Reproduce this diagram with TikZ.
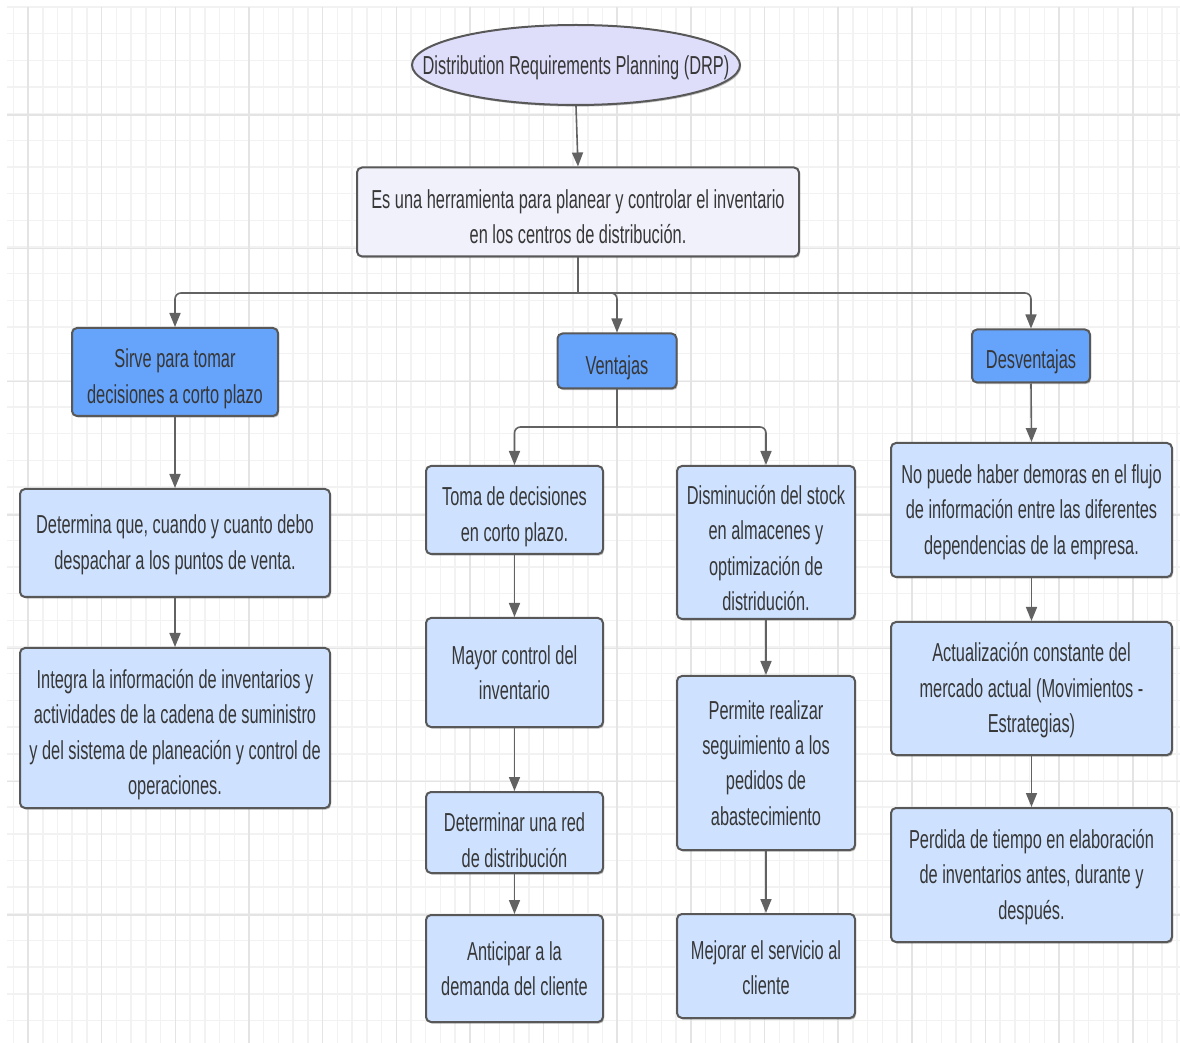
\documentclass[tikz,border=0pt]{standalone}
\usepackage{fontspec}
\setmainfont{Liberation Sans}[FakeStretch=0.63]
\usetikzlibrary{shapes.geometric,arrows.meta,shadows}

\definecolor{gridminor}{RGB}{242,242,242}
\definecolor{gridmajor}{RGB}{228,228,228}
\definecolor{edge}{RGB}{88,88,88}
\definecolor{wire}{RGB}{98,98,98}
\definecolor{ink}{RGB}{55,55,55}
\definecolor{lilac}{RGB}{222,222,250}
\definecolor{paleLilac}{RGB}{241,241,252}
\definecolor{midBlue}{RGB}{102,163,250}
\definecolor{paleBlue}{RGB}{206,226,255}

% invisible strut that sets the height of a first text line
\newcommand\liftline[1]{\rule{0pt}{#1}}

\tikzset{
  txt/.style={align=center, text=ink, inner sep=0pt,
    font=\fontsize{13}{17.7}\selectfont},
  softshadow/.style={drop shadow={shadow xshift=0.6pt, shadow yshift=-0.8pt,
    opacity=0.25, fill=black}},
  box/.style={txt, draw=edge, line width=1pt, rounded corners=2.5pt, softshadow},
  topbox/.style={box, fill=paleLilac},
  headbox/.style={box, fill=midBlue},
  itembox/.style={box, fill=paleBlue},
  wire/.style={draw=wire, line width=0.8pt, rounded corners=3pt,
    -{Triangle[length=7pt,width=5.5pt]}},
  wirefree/.style={draw=wire, line width=0.8pt, rounded corners=3pt},
}

\begin{document}
\begin{tikzpicture}[x=0.5pt,y=-0.5pt]
  % page and squared background
  \useasboundingbox (0,0) rectangle (1180,1043);
  \fill[white] (0,0) rectangle (1180,1043);
  \foreach \i in {0,...,79}
    \draw[gridminor, line width=0.75pt] ({13.3+14.73*\i},7) -- ({13.3+14.73*\i},1043);
  \foreach \j in {0,...,38}
    \draw[gridminor, line width=0.75pt] (7,{7+26.67*\j}) -- (1180,{7+26.67*\j});
  \foreach \i in {0,...,15}
    \draw[gridmajor, line width=0.75pt] ({28+73.65*\i},7) -- ({28+73.65*\i},1043);
  \foreach \j in {0,...,6}
    \draw[gridmajor, line width=0.75pt] (7,{115+133.33*\j}) -- (1180,{115+133.33*\j});

  % title
  \node[ellipse, draw=edge, line width=1pt, fill=lilac, softshadow,
        minimum width=164pt, minimum height=40pt, inner sep=0pt] (drp) at (576,65) {};
  \node[txt] (drptxt) at (drp.center) {\liftline{12pt}Distribution Requirements Planning (DRP)};

  \node[topbox, minimum width=221pt, minimum height=44.5pt] (def) at (578,212)
    {\liftline{14.3pt}Es una herramienta para planear y controlar el inventario\\en los centros de distribución.};

  % three branches
  \node[headbox, minimum width=103pt, minimum height=44pt] (sirve) at (175,372)
    {\liftline{16.3pt}Sirve para tomar\\decisiones a corto plazo};
  \node[headbox, minimum width=59.5pt, minimum height=27.5pt] (vent) at (617,361)
    {\liftline{16pt}Ventajas};
  \node[headbox, minimum width=59pt, minimum height=26.5pt] (desv) at (1031,356)
    {\liftline{15pt}Desventajas};

  % left column
  \node[itembox, minimum width=155pt, minimum height=54pt] (det) at (175,543)
    {\liftline{11.3pt}Determina que, cuando y cuanto debo\\despachar a los puntos de venta.};
  \node[itembox, minimum width=155pt, minimum height=80pt] (integ) at (175,728)
    {\liftline{16.3pt}Integra la información de inventarios y\\actividades de la cadena de suministro\\y del sistema de planeación y control de\\operaciones.};

  % advantages
  \node[itembox, minimum width=88.5pt, minimum height=44pt] (toma) at (514.5,510)
    {\liftline{16.3pt}Toma de decisiones\\en corto plazo.};
  \node[itembox, minimum width=88.5pt, minimum height=54.5pt] (mayor) at (514.5,672.5)
    {Mayor control del\\inventario};
  \node[itembox, minimum width=88.5pt, minimum height=40.5pt] (dred) at (514.5,832.5)
    {\liftline{17.3pt}Determinar una red\\de distribución};
  \node[itembox, minimum width=88.5pt, minimum height=53.5pt] (antic) at (514.5,968.5)
    {Anticipar a la\\demanda del cliente};

  \node[itembox, minimum width=89pt, minimum height=76.5pt] (dism) at (766,542.5)
    {\liftline{15.3pt}Disminución del stock\\en almacenes y\\optimización de\\distridución.};
  \node[itembox, minimum width=89pt, minimum height=87pt] (perm) at (766,763)
    {Permite realizar\\seguimiento a los\\pedidos de\\abastecimiento};
  \node[itembox, minimum width=89pt, minimum height=52pt] (mejor) at (766,966)
    {\liftline{11.3pt}Mejorar el servicio al\\cliente};

  % disadvantages
  \node[itembox, minimum width=140.5pt, minimum height=67pt] (nopu) at (1031.5,510)
    {\liftline{11.3pt}No puede haber demoras en el flujo\\de información entre las diferentes\\dependencias de la empresa.};
  \node[itembox, minimum width=140.5pt, minimum height=66.5pt] (actu) at (1031.5,688.5)
    {\liftline{11.3pt}Actualización constante del\\mercado actual (Movimientos -\\Estrategias)};
  \node[itembox, minimum width=140.5pt, minimum height=67pt] (perd) at (1031.5,875)
    {\liftline{11.3pt}Perdida de tiempo en elaboración\\de inventarios antes, durante y\\después.};

  % junction points of the branching connectors
  \coordinate (j1) at (578,293);
  \coordinate (j2) at (617,427);

  % connectors
  \draw[wire] (drp.south) -- (def.north);
  \draw[wirefree] (def.south) -- (j1);
  \draw[wire] (j1) -| (sirve.north);
  \draw[wire] (j1) -| (vent.north);
  \draw[wire] (j1) -| (desv.north);

  \draw[wire] (sirve.south) -- (det.north);
  \draw[wire] (det.south) -- (integ.north);

  \draw[wirefree] (vent.south) -- (j2);
  \draw[wire] (j2) -| (toma.north);
  \draw[wire] (j2) -| (dism.north);
  \draw[wire] (toma.south) -- (mayor.north);
  \draw[wire] (mayor.south) -- (dred.north);
  \draw[wire] (dred.south) -- (antic.north);
  \draw[wire] (dism.south) -- (perm.north);
  \draw[wire] (perm.south) -- (mejor.north);

  \draw[wire] (desv.south) -- (nopu.north);
  \draw[wire] (nopu.south) -- (actu.north);
  \draw[wire] (actu.south) -- (perd.north);
\end{tikzpicture}
\end{document}
